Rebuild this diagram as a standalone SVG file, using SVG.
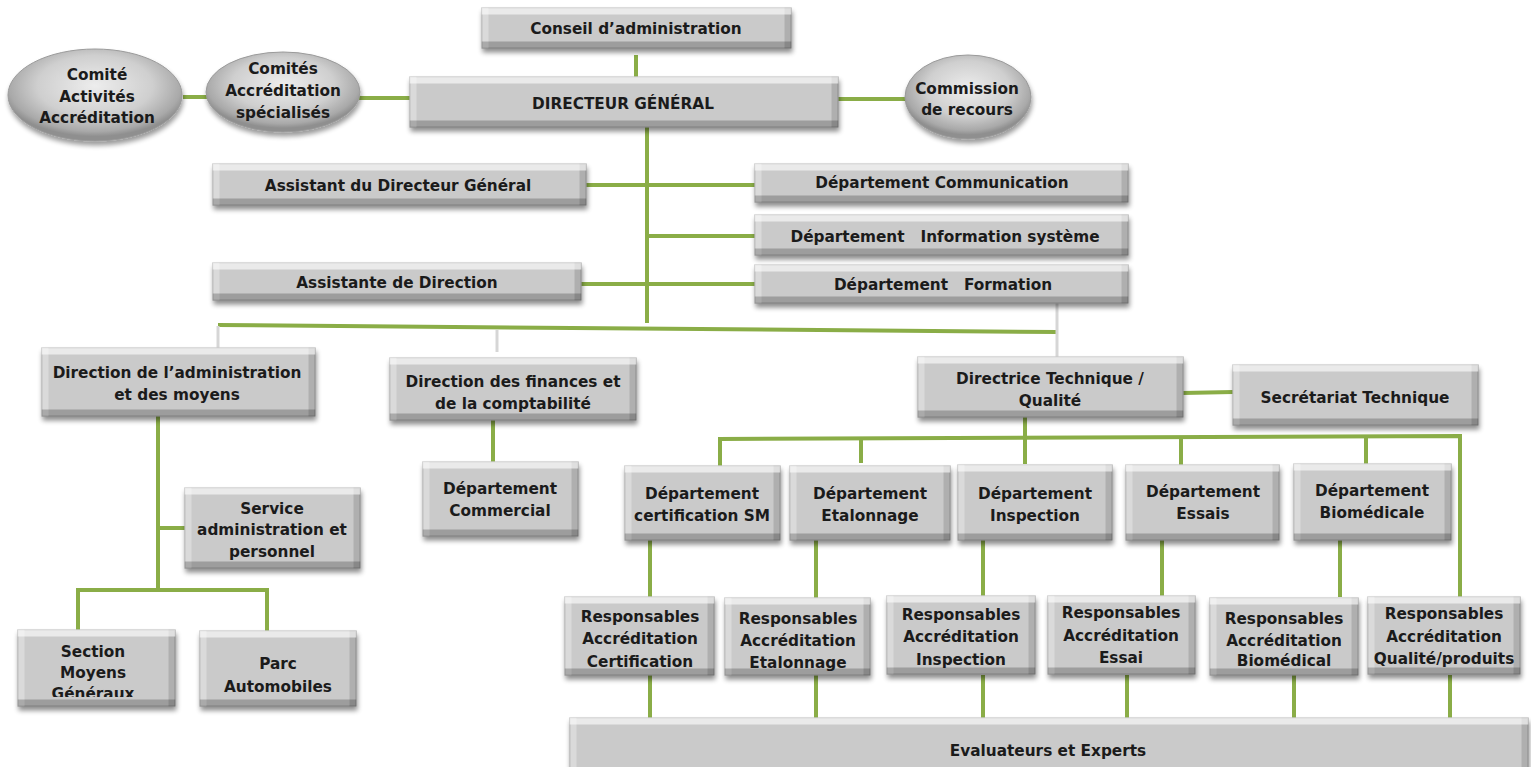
<svg xmlns="http://www.w3.org/2000/svg" width="1531" height="767" viewBox="0 0 1531 767">
  <defs>
    <!-- chiselled grey box: bevelled edges plus a soft drop shadow -->
    <filter id="bevel" x="-5%" y="-15%" width="115%" height="145%" color-interpolation-filters="sRGB">
      <feOffset in="SourceAlpha" dy="7" result="dn"/>
      <feComposite in="SourceAlpha" in2="dn" operator="out" result="topM"/>
      <feOffset in="SourceAlpha" dy="-7" result="up"/>
      <feComposite in="SourceAlpha" in2="up" operator="out" result="botM"/>
      <feOffset in="SourceAlpha" dx="7" result="rt"/>
      <feComposite in="SourceAlpha" in2="rt" operator="out" result="leftM"/>
      <feOffset in="SourceAlpha" dx="-7" result="lf"/>
      <feComposite in="SourceAlpha" in2="lf" operator="out" result="rightM"/>
      <feFlood flood-color="#ffffff" flood-opacity="0.6"/>
      <feComposite in2="topM" operator="in" result="top"/>
      <feFlood flood-color="#ffffff" flood-opacity="0.3"/>
      <feComposite in2="leftM" operator="in" result="left"/>
      <feFlood flood-color="#000000" flood-opacity="0.22"/>
      <feComposite in2="botM" operator="in" result="bot"/>
      <feFlood flood-color="#000000" flood-opacity="0.13"/>
      <feComposite in2="rightM" operator="in" result="right"/>
      <feGaussianBlur in="SourceAlpha" stdDeviation="2.5" result="sb"/>
      <feOffset in="sb" dx="1" dy="4" result="so"/>
      <feComponentTransfer in="so" result="shadow">
        <feFuncA type="linear" slope="0.45"/>
      </feComponentTransfer>
      <feMerge>
        <feMergeNode in="shadow"/>
        <feMergeNode in="SourceGraphic"/>
        <feMergeNode in="left"/>
        <feMergeNode in="right"/>
        <feMergeNode in="top"/>
        <feMergeNode in="bot"/>
      </feMerge>
    </filter>
    <filter id="oshadow" x="-10%" y="-15%" width="125%" height="140%">
      <feGaussianBlur in="SourceAlpha" stdDeviation="2.5"/>
      <feOffset dx="1" dy="4" result="o"/>
      <feComponentTransfer in="o" result="s">
        <feFuncA type="linear" slope="0.4"/>
      </feComponentTransfer>
      <feMerge><feMergeNode in="s"/><feMergeNode in="SourceGraphic"/></feMerge>
    </filter>
    <radialGradient id="oval" cx="50%" cy="40%" r="55%">
      <stop offset="0" stop-color="#ededed"/>
      <stop offset="0.6" stop-color="#cfcfcf"/>
      <stop offset="0.9" stop-color="#a9a9a9"/>
      <stop offset="1" stop-color="#8f8f8f"/>
    </radialGradient>
    <clipPath id="clipSection"><rect x="18" y="630" width="157" height="67"/></clipPath>
  </defs>
  <style>
    .box { fill: #cacaca; stroke: #a3a3a3; stroke-width: 1; filter: url(#bevel); }
    .oval { fill: url(#oval); stroke: #9a9a9a; stroke-width: 1; filter: url(#oshadow); }
    .t { font-family: "DejaVu Sans", Verdana, sans-serif; font-weight: bold; font-size: 15.3px; fill: #1b1b1b; text-anchor: middle; white-space: pre; }
    .g { fill: none; stroke: #8aad47; stroke-width: 4; stroke-linecap: butt; }
    .l { fill: none; stroke: #d6d6d6; stroke-width: 3; }
  </style>

  <!-- connectors -->
  <g id="connectors">
    <path class="g" d="M636 55 V77"/>
    <path class="g" d="M183 97 H210"/>
    <path class="g" d="M359 98 H410"/>
    <path class="g" d="M838 99 H907"/>
    <path class="g" d="M647 126 V323"/>
    <path class="g" d="M586 185 H755"/>
    <path class="g" d="M647 236 H755"/>
    <path class="g" d="M581 284 H755"/>
    <path class="g" d="M218 325 L1057 332"/>
    <path class="l" d="M218 326 V348"/>
    <path class="l" d="M497 330 V352"/>
    <path class="l" d="M1057 303 V357"/>
    <path class="g" d="M158 416 V590"/>
    <path class="g" d="M158 528 H185"/>
    <path class="g" d="M78 630 V590 H267 V633"/>
    <path class="g" d="M493 420 V462"/>
    <path class="g" d="M1183 393 L1233 392"/>
    <path class="g" d="M1025 417 V464"/>
    <path class="g" d="M720 466 V439 L1460 436 V597"/>
    <path class="g" d="M861 437 V463"/>
    <path class="g" d="M1181 437 V466"/>
    <path class="g" d="M1366 437 V464"/>
    <path class="g" d="M650 540 V598"/>
    <path class="g" d="M816 540 V598"/>
    <path class="g" d="M983 540 V598"/>
    <path class="g" d="M1162 540 V597"/>
    <path class="g" d="M1340 540 V597"/>
    <path class="g" d="M650 675 V718"/>
    <path class="g" d="M816 675 V718"/>
    <path class="g" d="M983 675 V718"/>
    <path class="g" d="M1127 675 V718"/>
    <path class="g" d="M1294 675 V718"/>
    <path class="g" d="M1450 675 V718"/>
  </g>

  <!-- top management -->
  <g id="conseil">
    <rect class="box" x="482" y="8" width="309" height="40"/>
    <text class="t" x="636" y="34">Conseil d’administration</text>
  </g>
  <g id="directeur-general">
    <rect class="box" x="410" y="77" width="428" height="50"/>
    <text class="t" x="623" y="109">DIRECTEUR GÉNÉRAL</text>
  </g>
  <g id="comite-activites">
    <ellipse class="oval" cx="95" cy="95" rx="87" ry="46"/>
    <text class="t" x="97" y="80">Comité</text>
    <text class="t" x="97" y="102">Activités</text>
    <text class="t" x="97" y="123">Accréditation</text>
  </g>
  <g id="comites-specialises">
    <ellipse class="oval" cx="283" cy="92" rx="77" ry="40"/>
    <text class="t" x="283" y="74">Comités</text>
    <text class="t" x="283" y="96">Accréditation</text>
    <text class="t" x="283" y="118">spécialisés</text>
  </g>
  <g id="commission-recours">
    <ellipse class="oval" cx="968" cy="97" rx="63" ry="42"/>
    <text class="t" x="967" y="94">Commission</text>
    <text class="t" x="967" y="115">de recours</text>
  </g>

  <!-- staff units -->
  <g id="assistant-dg">
    <rect class="box" x="213" y="164" width="373" height="41"/>
    <text class="t" x="398" y="191">Assistant du Directeur Général</text>
  </g>
  <g id="dept-communication">
    <rect class="box" x="755" y="164" width="373" height="38"/>
    <text class="t" x="942" y="188">Département Communication</text>
  </g>
  <g id="dept-information">
    <rect class="box" x="755" y="215" width="373" height="40"/>
    <text class="t" x="945" y="242">Département   Information système</text>
  </g>
  <g id="assistante-direction">
    <rect class="box" x="213" y="263" width="368" height="37"/>
    <text class="t" x="397" y="288">Assistante de Direction</text>
  </g>
  <g id="dept-formation">
    <rect class="box" x="755" y="265" width="373" height="38"/>
    <text class="t" x="943" y="290">Département   Formation</text>
  </g>

  <!-- directions -->
  <g id="direction-administration">
    <rect class="box" x="42" y="348" width="273" height="68"/>
    <text class="t" x="177" y="378">Direction de l’administration</text>
    <text class="t" x="177" y="400">et des moyens</text>
  </g>
  <g id="direction-finances">
    <rect class="box" x="390" y="358" width="246" height="62"/>
    <text class="t" x="513" y="387">Direction des finances et</text>
    <text class="t" x="513" y="409">de la comptabilité</text>
  </g>
  <g id="directrice-technique">
    <rect class="box" x="918" y="357" width="265" height="60"/>
    <text class="t" x="1050" y="384">Directrice Technique /</text>
    <text class="t" x="1050" y="406">Qualité</text>
  </g>
  <g id="secretariat-technique">
    <rect class="box" x="1233" y="365" width="245" height="60"/>
    <text class="t" x="1355" y="403">Secrétariat Technique</text>
  </g>

  <!-- administration branch -->
  <g id="service-administration">
    <rect class="box" x="185" y="488" width="175" height="80"/>
    <text class="t" x="272" y="514">Service</text>
    <text class="t" x="272" y="535">administration et</text>
    <text class="t" x="272" y="557">personnel</text>
  </g>
  <g id="section-moyens">
    <rect class="box" x="18" y="630" width="157" height="76"/>
    <g clip-path="url(#clipSection)">
      <text class="t" x="93" y="657">Section</text>
      <text class="t" x="93" y="678">Moyens</text>
      <text class="t" x="93" y="699">Généraux</text>
    </g>
  </g>
  <g id="parc-automobiles">
    <rect class="box" x="200" y="631" width="156" height="75"/>
    <text class="t" x="278" y="669">Parc</text>
    <text class="t" x="278" y="692">Automobiles</text>
  </g>
  <g id="dept-commercial">
    <rect class="box" x="423" y="462" width="155" height="74"/>
    <text class="t" x="500" y="494">Département</text>
    <text class="t" x="500" y="516">Commercial</text>
  </g>

  <!-- technical departments -->
  <g id="dept-certification">
    <rect class="box" x="625" y="466" width="155" height="74"/>
    <text class="t" x="702" y="499">Département</text>
    <text class="t" x="702" y="521">certification SM</text>
  </g>
  <g id="dept-etalonnage">
    <rect class="box" x="790" y="466" width="160" height="74"/>
    <text class="t" x="870" y="499">Département</text>
    <text class="t" x="870" y="521">Etalonnage</text>
  </g>
  <g id="dept-inspection">
    <rect class="box" x="958" y="465" width="154" height="75"/>
    <text class="t" x="1035" y="499">Département</text>
    <text class="t" x="1035" y="521">Inspection</text>
  </g>
  <g id="dept-essais">
    <rect class="box" x="1126" y="465" width="153" height="75"/>
    <text class="t" x="1203" y="497">Département</text>
    <text class="t" x="1203" y="519">Essais</text>
  </g>
  <g id="dept-biomedicale">
    <rect class="box" x="1294" y="464" width="157" height="76"/>
    <text class="t" x="1372" y="496">Département</text>
    <text class="t" x="1372" y="518">Biomédicale</text>
  </g>

  <!-- accreditation managers -->
  <g id="resp-certification">
    <rect class="box" x="565" y="597" width="149" height="78"/>
    <text class="t" x="640" y="622">Responsables</text>
    <text class="t" x="640" y="644">Accréditation</text>
    <text class="t" x="640" y="667">Certification</text>
  </g>
  <g id="resp-etalonnage">
    <rect class="box" x="725" y="598" width="145" height="77"/>
    <text class="t" x="798" y="624">Responsables</text>
    <text class="t" x="798" y="646">Accréditation</text>
    <text class="t" x="798" y="668">Etalonnage</text>
  </g>
  <g id="resp-inspection">
    <rect class="box" x="887" y="596" width="148" height="78"/>
    <text class="t" x="961" y="620">Responsables</text>
    <text class="t" x="961" y="642">Accréditation</text>
    <text class="t" x="961" y="665">Inspection</text>
  </g>
  <g id="resp-essai">
    <rect class="box" x="1048" y="596" width="147" height="78"/>
    <text class="t" x="1121" y="618">Responsables</text>
    <text class="t" x="1121" y="641">Accréditation</text>
    <text class="t" x="1121" y="663">Essai</text>
  </g>
  <g id="resp-biomedical">
    <rect class="box" x="1210" y="598" width="148" height="77"/>
    <text class="t" x="1284" y="624">Responsables</text>
    <text class="t" x="1284" y="646">Accréditation</text>
    <text class="t" x="1284" y="666">Biomédical</text>
  </g>
  <g id="resp-qualite">
    <rect class="box" x="1368" y="597" width="152" height="77"/>
    <text class="t" x="1444" y="619">Responsables</text>
    <text class="t" x="1444" y="642">Accréditation</text>
    <text class="t" x="1444" y="664">Qualité/produits</text>
  </g>

  <!-- assessors -->
  <g id="evaluateurs">
    <rect class="box" x="570" y="718" width="958" height="56"/>
    <text class="t" x="1048" y="756">Evaluateurs et Experts</text>
  </g>
</svg>
